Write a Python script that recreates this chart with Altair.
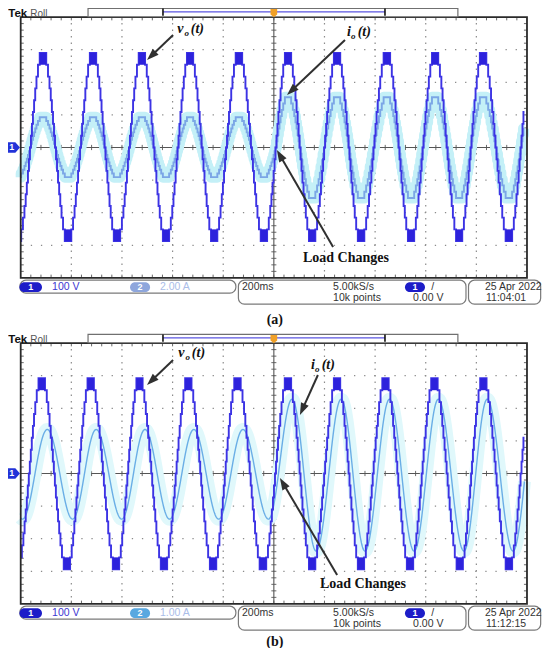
import math
import altair as alt
import pandas as pd

# ------------------------------------------------------------------
# Chart geometry (plot area = whole page minus 8px margin)
W, H = 534, 640
X0, X1 = -50.2, 2059.3          # time axis, ms (200 ms/div, graticule 0..2000)
Y0, Y1 = -15.353, 4.279         # vertical axis in divisions (panel a centred at 0, panel b at -10)
KX = W / (X1 - X0)
KY = H / (Y1 - Y0)
PANEL_OFF = [0.0, -10.0]
T_END = 1990                    # roll-mode trace ends just before the right edge

# ------------------------------------------------------------------
# DATA
V_PER_DIV = [100, 100]          # CH1 scale, panel a / b
A_PER_DIV = [2.0, 1.0]          # CH2 scale, panel a / b

# output voltage extrema (ms, V) - panel (a)
va_t = [-11, 88, 187, 286, 380, 479, 574, 669, 764, 862, 961,
        1056, 1151, 1250, 1344, 1447, 1542, 1637, 1732, 1826, 1929, 2024]
va_v = [-287, 290, -287, 290, -287, 290, -287, 290, -287, 290, -287,
        290, -287, 290, -287, 290, -287, 290, -287, 290, -287, 290]
# output current extrema (ms, A) - panel (a), resistive load, in phase
ia_t = [-11, 88, 187, 286, 380, 479, 574, 669, 764, 862, 961,
        1056, 1151, 1250, 1344, 1447, 1542, 1637, 1732, 1826, 1929, 2024]
ia_v = [-1.82, 1.86, -1.82, 1.86, -1.82, 1.86, -1.82, 1.86, -1.82, 1.86, -1.82,
        3.08, -3.10, 3.08, -3.10, 3.08, -3.10, 3.08, -3.10, 3.08, -3.10, 3.08]
# output voltage extrema (ms, V) - panel (b)
vb_t = [-15, 83, 183, 276, 377, 469, 566, 662, 760, 856, 957,
        1056, 1151, 1250, 1344, 1441, 1538, 1634, 1735, 1827, 1929, 2024]
vb_v = [-294, 292, -294, 292, -294, 292, -294, 292, -294, 292, -294,
        292, -294, 292, -294, 292, -294, 292, -294, 292, -294, 292]
# output current extrema (ms, A) - panel (b), inductive load, lagging
ib_t = [-90, 7, 105, 205, 298, 399, 491, 588, 684, 782, 878, 979,
        1072, 1167, 1266, 1360, 1457, 1554, 1650, 1751, 1843, 1945, 2040]
ib_v = [1.35, -1.40, 1.35, -1.40, 1.35, -1.40, 1.35, -1.40, 1.35, -1.40, 1.35, -1.40,
        2.28, -2.38, 2.28, -2.38, 2.28, -2.38, 2.28, -2.38, 2.28, -2.38, 2.28]

# staircase switching instants inside a quarter cycle (fraction from zero crossing)
STEP_FRAC = [0.04, 0.12, 0.20, 0.29, 0.38, 0.48, 0.60, 0.74]
N_LEV = len(STEP_FRAC)

# status-bar texts
ch2_scale_txt = ["2.00 A", "1.00 A"]
time_txt = ["11:04:01", "11:12:15"]
date_txt = "25 Apr  2022"
captions = ["(a)", "(b)"]

# ------------------------------------------------------------------
def staircase(ts, vs, per_div, off):
    pts = []
    for k in range(len(ts) - 1):
        ta, tb, a, b = ts[k], ts[k + 1], vs[k], vs[k + 1]
        tm = (ta + tb) / 2
        qa, qb = tm - ta, tb - tm
        for j in range(N_LEV, 0, -1):
            tj = tm - STEP_FRAC[j - 1] * qa
            pts.append((tj, a * j / N_LEV))
            pts.append((tj, a * (j - 1) / N_LEV))
        for j in range(1, N_LEV + 1):
            tj = tm + STEP_FRAC[j - 1] * qb
            pts.append((tj, b * (j - 1) / N_LEV))
            pts.append((tj, b * j / N_LEV))

    def val_at(t):
        v = pts[0][1]
        for tt, vv in pts:
            if tt <= t:
                v = vv
            else:
                break
        return v

    out = [(0.0, val_at(0.0))] + [p for p in pts if 0 < p[0] < T_END] + [(float(T_END), val_at(T_END))]
    return pd.DataFrame([{"t": t, "y": v / per_div + off, "i": n} for n, (t, v) in enumerate(out)])


def peak_blocks(ts, vs, per_div, off):
    rows = []
    n = len(ts)
    for k in range(n):
        ql = (ts[k] - ts[k - 1]) / 2 if k > 0 else (ts[k + 1] - ts[k]) / 2
        qr = (ts[k + 1] - ts[k]) / 2 if k < n - 1 else ql
        a = max(ts[k] - (1 - STEP_FRAC[-1]) * ql, 0)
        b = min(ts[k] + (1 - STEP_FRAC[-1]) * qr, T_END)
        if b <= a:
            continue
        rows.append({"t": a, "t2": b, "y": vs[k] / per_div + off,
                     "y2": vs[k] * (N_LEV - 1) / N_LEV / per_div + off})
    return pd.DataFrame(rows)


def smooth(ts, vs, per_div, off, step=2.0):
    rows = []
    t, k, n = 0.0, 0, 0
    while True:
        tt = min(t, T_END)
        while ts[k + 1] < tt:
            k += 1
        ta, tb = ts[k], ts[k + 1]
        f = (tt - ta) / (tb - ta)
        v = vs[k] + (vs[k + 1] - vs[k]) * (1 - math.cos(math.pi * f)) / 2
        rows.append({"t": tt, "y": v / per_div + off, "i": n})
        n += 1
        if tt >= T_END:
            break
        t += step
    return pd.DataFrame(rows)


XS = alt.Scale(domain=[X0, X1], nice=False, zero=False)
YS = alt.Scale(domain=[Y0, Y1], nice=False, zero=False)


def X(f="t"):
    return alt.X(f, type="quantitative", scale=XS, axis=None)


def Y(f="y"):
    return alt.Y(f, type="quantitative", scale=YS, axis=None)


layers = []

# ------------------------------------------------------------------ graticule
vgrid, hgrid, cross, ticks, border = [], [], [], [], []
for off in PANEL_OFF:
    for k in range(1, 10):
        if k != 5:
            vgrid.append({"t": 200 * k, "y": off - 4, "y2": off + 4})
    for k in (-3, -2, -1, 1, 2, 3):
        hgrid.append({"t": 0, "t2": 2000, "y": off + k})
    cross.append({"t": 1000, "t2": 1000, "y": off - 4, "y2": off + 4})
    cross.append({"t": 0, "t2": 2000, "y": off, "y2": off})
    for k in range(1, 50):
        t = 40 * k
        ticks.append({"t": t, "t2": t, "y": off - 0.08, "y2": off + 0.08})
        ticks.append({"t": t, "t2": t, "y": off + 4, "y2": off + 3.9})
        ticks.append({"t": t, "t2": t, "y": off - 4, "y2": off - 3.9})
    for k in range(-19, 20):
        if k == 0:
            continue
        y = off + 0.2 * k
        ticks.append({"t": 990, "t2": 1010, "y": y, "y2": y})
        ticks.append({"t": 0, "t2": 12, "y": y, "y2": y})
        ticks.append({"t": 1988, "t2": 2000, "y": y, "y2": y})
    border.append({"t": 0, "t2": 2000, "y": off - 4, "y2": off + 4})

layers.append(alt.Chart(pd.DataFrame(vgrid)).mark_rule(color="#8c8c8c", strokeWidth=1.2, strokeDash=[1.3, 5.2])
              .encode(x=X(), y=Y(), y2="y2"))
layers.append(alt.Chart(pd.DataFrame(hgrid)).mark_rule(color="#8c8c8c", strokeWidth=1.2, strokeDash=[1.3, 8.8])
              .encode(x=X(), x2="t2", y=Y()))
layers.append(alt.Chart(pd.DataFrame(ticks)).mark_rule(color="#6a6a6a", strokeWidth=1)
              .encode(x=X(), x2="t2", y=Y(), y2="y2"))
layers.append(alt.Chart(pd.DataFrame(cross)).mark_rule(color="#555555", strokeWidth=1.1)
              .encode(x=X(), x2="t2", y=Y(), y2="y2"))

# ------------------------------------------------------------------ traces
ia_df = staircase(ia_t, ia_v, A_PER_DIV[0], PANEL_OFF[0])
va_df = staircase(va_t, va_v, V_PER_DIV[0], PANEL_OFF[0])
vb_df = staircase(vb_t, vb_v, V_PER_DIV[1], PANEL_OFF[1])
ib_df = smooth(ib_t, ib_v, A_PER_DIV[1], PANEL_OFF[1])
va_blk = peak_blocks(va_t, va_v, V_PER_DIV[0], PANEL_OFF[0])
vb_blk = peak_blocks(vb_t, vb_v, V_PER_DIV[1], PANEL_OFF[1])

# light cyan persistence bands behind the current traces
layers.append(alt.Chart(ia_df).mark_line(color="#c4f0f7", strokeWidth=11, strokeJoin="round")
              .encode(x=X(), y=Y(), order="i:Q"))
layers.append(alt.Chart(ib_df).mark_line(color="#e0f8fb", strokeWidth=13, strokeJoin="round")
              .encode(x=X(), y=Y(), order="i:Q"))
# currents
layers.append(alt.Chart(ia_df).mark_line(color="#7ba6e6", strokeWidth=1.9)
              .encode(x=X(), y=Y(), order="i:Q"))
layers.append(alt.Chart(ib_df).mark_line(color="#6aaee6", strokeWidth=1.4)
              .encode(x=X(), y=Y(), order="i:Q"))
# voltages
for df in (va_df, vb_df):
    layers.append(alt.Chart(df).mark_line(color="#3c33e4", strokeWidth=1.9)
                  .encode(x=X(), y=Y(), order="i:Q"))
for df in (va_blk, vb_blk):
    layers.append(alt.Chart(df).mark_rect(color="#2d22dc")
                  .encode(x=X(), x2="t2", y=Y(), y2="y2"))

# graticule border
layers.append(alt.Chart(pd.DataFrame(border)).mark_rect(filled=False, stroke="#2a2a2a", strokeWidth=1.8)
              .encode(x=X(), x2="t2", y=Y(), y2="y2"))

# ------------------------------------------------------------------ top record bar, markers
bars, bar_ticks, bar_line, trig, ch_mark = [], [], [], [], []
for off in PANEL_OFF:
    bars.append({"t": 266, "t2": 1727, "y": off + 4.27, "y2": off + 4.01})
    bar_ticks += [{"t": 562, "y": off + 4.04, "y2": off + 4.26},
                  {"t": 1439, "y": off + 4.04, "y2": off + 4.26}]
    bar_line.append({"t": 562, "t2": 1439, "y": off + 4.16})
    trig.append({"t": 1000, "y": off + 4.12})
    ch_mark.append({"t": -31, "y": off, "s": "1"})

layers.append(alt.Chart(pd.DataFrame(bars)).mark_rect(fill="white", stroke="#707070", strokeWidth=1.2)
              .encode(x=X(), x2="t2", y=Y(), y2="y2"))
layers.append(alt.Chart(pd.DataFrame(bar_line)).mark_rule(color="#5a55e0", strokeWidth=1.2)
              .encode(x=X(), x2="t2", y=Y()))
layers.append(alt.Chart(pd.DataFrame(bar_ticks)).mark_rule(color="#111111", strokeWidth=1.6)
              .encode(x=X(), y=Y(), y2="y2"))
layers.append(alt.Chart(pd.DataFrame(trig)).mark_point(filled=True, color="#f0a028", size=70, opacity=1,
                                                        shape="M-0.8,-1L0.8,-1L0.8,0.3L0,1L-0.8,0.3Z")
              .encode(x=X(), y=Y()))
layers.append(alt.Chart(pd.DataFrame(ch_mark)).mark_point(filled=True, color="#2232d8", size=200, opacity=1,
                                                           shape="M-1,-0.75L0.35,-0.75L1,0L0.35,0.75L-1,0.75Z")
              .encode(x=X(), y=Y()))
layers.append(alt.Chart(pd.DataFrame(ch_mark)).mark_text(color="white", font="Liberation Sans", fontSize=9,
                                                          fontWeight="bold", align="center", baseline="middle", dx=-1)
              .encode(x=X(), y=Y(), text="s:N"))

# Tek / Roll
tek = [{"t": -49, "y": off + 4.012, "s": "Tek"} for off in PANEL_OFF]
roll = [{"t": 38, "y": off + 4.012, "s": "Roll"} for off in PANEL_OFF]
layers.append(alt.Chart(pd.DataFrame(tek)).mark_text(font="Liberation Sans", fontSize=11.5, fontWeight="bold",
                                                      color="#111111", align="left", baseline="alphabetic")
              .encode(x=X(), y=Y(), text="s:N"))
layers.append(alt.Chart(pd.DataFrame(roll)).mark_text(font="Liberation Sans", fontSize=10,
                                                       color="#555555", align="left", baseline="alphabetic")
              .encode(x=X(), y=Y(), text="s:N"))

# ------------------------------------------------------------------ status bar
ROW1, ROW2 = -4.285, -4.623
boxes, pills, pill_txt, stat_txt, caps = [], [], [], [], []
for p, off in enumerate(PANEL_OFF):
    boxes += [{"t": -3, "t2": 850, "y": off - 4.071, "y2": off - 4.469},
              {"t": 860, "t2": 1759, "y": off - 4.071, "y2": off - 4.807},
              {"t": 1769, "t2": 2054, "y": off - 4.071, "y2": off - 4.807}]
    ch2_col = "#8ea6dc" if p == 0 else "#5aa8e0"
    pills += [{"t": -5, "t2": 84, "y": off + ROW1 + 0.15, "y2": off + ROW1 - 0.15, "c": "#1d1dc8"},
              {"t": 432, "t2": 511, "y": off + ROW1 + 0.15, "y2": off + ROW1 - 0.15, "c": ch2_col},
              {"t": 1518, "t2": 1597, "y": off + ROW1 + 0.15, "y2": off + ROW1 - 0.15, "c": "#1d1dc8"}]
    pill_txt += [{"t": 39.5, "y": off + ROW1, "s": "1"},
                 {"t": 471.5, "y": off + ROW1, "s": "2"},
                 {"t": 1557.5, "y": off + ROW1, "s": "1"}]
    stat_txt += [{"t": 124, "y": off + ROW1, "s": "100 V", "c": "#3c36d2"},
                 {"t": 550, "y": off + ROW1, "s": ch2_scale_txt[p], "c": "#aabde8"},
                 {"t": 874, "y": off + ROW1, "s": "200ms", "c": "#333333"},
                 {"t": 1234, "y": off + ROW1, "s": "5.00kS/s", "c": "#333333"},
                 {"t": 1234, "y": off + ROW2, "s": "10k points", "c": "#333333"},
                 {"t": 1622, "y": off + ROW1, "s": "/", "c": "#333333"},
                 {"t": 1550, "y": off + ROW2, "s": "0.00 V", "c": "#333333"},
                 {"t": 1834, "y": off + ROW1, "s": date_txt, "c": "#333333"},
                 {"t": 1838, "y": off + ROW2, "s": time_txt[p], "c": "#333333"}]
    caps.append({"t": 1004, "y": off + (-5.291 if p == 0 else -5.17), "s": captions[p]})

layers.append(alt.Chart(pd.DataFrame(boxes)).mark_rect(fill="white", stroke="#7a7a7a", strokeWidth=1.2, cornerRadius=6)
              .encode(x=X(), x2="t2", y=Y(), y2="y2"))
layers.append(alt.Chart(pd.DataFrame(pills)).mark_rect(cornerRadius=5)
              .encode(x=X(), x2="t2", y=Y(), y2="y2", color=alt.Color("c:N", scale=None)))
layers.append(alt.Chart(pd.DataFrame(pill_txt)).mark_text(color="white", font="Liberation Sans", fontSize=9,
                                                           fontWeight="bold", align="center", baseline="middle")
              .encode(x=X(), y=Y(), text="s:N"))
layers.append(alt.Chart(pd.DataFrame(stat_txt)).mark_text(font="Liberation Sans", fontSize=10.5,
                                                           align="left", baseline="middle")
              .encode(x=X(), y=Y(), text="s:N", color=alt.Color("c:N", scale=None)))
layers.append(alt.Chart(pd.DataFrame(caps)).mark_text(font="Liberation Serif", fontSize=14, fontWeight="bold",
                                                       color="#111111", align="center", baseline="middle")
              .encode(x=X(), y=Y(), text="s:N"))

# ------------------------------------------------------------------ annotations
big_lbl = [{"t": 618, "y": 3.635, "s": "v"}, {"t": 672, "y": 3.635, "s": "(t)"},
           {"t": 1289, "y": 3.543, "s": "i"}, {"t": 1331, "y": 3.543, "s": "(t)"},
           {"t": 622, "y": -6.304, "s": "v"}, {"t": 676, "y": -6.304, "s": "(t)"},
           {"t": 1147, "y": -6.672, "s": "i"}, {"t": 1189, "y": -6.672, "s": "(t)"}]
sub_lbl = [{"t": 647, "y": 3.50, "s": "o"}, {"t": 1305, "y": 3.41, "s": "o"},
           {"t": 651, "y": -6.44, "s": "o"}, {"t": 1163, "y": -6.80, "s": "o"}]
load_lbl = [{"t": 1115, "y": -3.39, "s": "Load Changes"},
            {"t": 1182, "y": -13.39, "s": "Load Changes"}]
layers.append(alt.Chart(pd.DataFrame(big_lbl)).mark_text(font="Liberation Serif", fontSize=14, fontWeight="bold",
                                                          fontStyle="italic", color="#111111", align="left",
                                                          baseline="middle")
              .encode(x=X(), y=Y(), text="s:N"))
layers.append(alt.Chart(pd.DataFrame(sub_lbl)).mark_text(font="Liberation Serif", fontSize=9, fontWeight="bold",
                                                          fontStyle="italic", color="#111111", align="left",
                                                          baseline="middle")
              .encode(x=X(), y=Y(), text="s:N"))
layers.append(alt.Chart(pd.DataFrame(load_lbl)).mark_text(font="Liberation Serif", fontSize=14, fontWeight="bold",
                                                           color="#111111", align="left", baseline="middle")
              .encode(x=X(), y=Y(), text="s:N"))

# arrows: (tail t, tail y, head t, head y)
arrows = [(602, 3.451, 499, 2.684), (1281, 3.298, 1052, 1.610), (1234, -3.052, 1012, -0.077),
          (602, -6.518, 499, -7.285), (1174, -6.979, 1103, -8.206), (1250, -13.113, 1024, -10.138)]
shafts, heads = [], []
HEAD_PX = 12
for tt, yt, th, yh in arrows:
    dxs = (th - tt) * KX
    dys = -(yh - yt) * KY
    L = math.hypot(dxs, dys)
    ang = math.degrees(math.atan2(dxs, -dys)) % 360
    back = 0.6 * HEAD_PX / L
    shafts.append({"t": tt, "y": yt, "t2": th - (th - tt) * back, "y2": yh - (yh - yt) * back})
    heads.append({"t": th, "y": yh, "a": ang})
layers.append(alt.Chart(pd.DataFrame(shafts)).mark_rule(color="#303030", strokeWidth=2)
              .encode(x=X(), x2="t2", y=Y(), y2="y2"))
layers.append(alt.Chart(pd.DataFrame(heads)).mark_point(filled=True, color="#303030", opacity=1, size=(HEAD_PX) ** 2,
                                                         shape="M0,0L0.7,2L-0.7,2Z")
              .encode(x=X(), y=Y(), angle=alt.Angle("a:Q", scale=None)))

chart = alt.layer(*layers).properties(
    width=W, height=H, autosize=alt.AutoSizeParams(type="none"), padding=0, background="white"
).configure_view(strokeWidth=0)

chart.save("out.html", embed_options={"renderer": "svg", "actions": False})
